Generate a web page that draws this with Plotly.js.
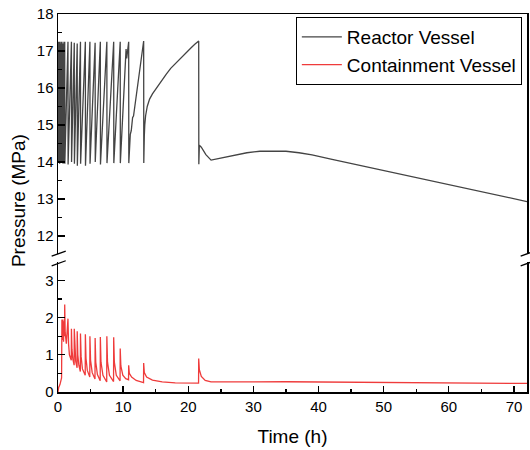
<!DOCTYPE html>
<html>
<head>
<meta charset="utf-8">
<script src="https://cdn.plot.ly/plotly-3.0.1.min.js"></script>
<style>html,body{margin:0;padding:0;background:#fff;}#chart{width:530px;height:450px;}</style>
</head>
<body>
<div id="chart"></div>
<script>
var seriesNames = ["Reactor Vessel", "Containment Vessel"];

var reactorTime = [0, 0.03, 0.06, 0.12, 0.15, 0.22, 0.25, 0.33, 0.36, 0.45,
  0.48, 0.57, 0.6, 0.63, 0.75, 0.78, 0.92, 0.95, 1.03, 1.05,
  1.53, 1.55, 2.06, 2.08, 2.5, 2.52, 2.95, 2.97, 3.45, 3.47,
  4.2, 4.22, 4.9, 4.92, 5.7, 5.72, 6.5, 6.52, 7.5, 7.52,
  8.55, 8.57, 9.55, 9.57, 10.45, 10.55, 10.85, 10.87, 11.1, 11.25,
  11.45, 11.6, 13.15, 13.17, 13.25, 13.32, 13.45, 13.7, 14.06, 14.5,
  15.1, 15.8, 16.6, 17.3, 18.16, 19.0, 19.7, 20.4, 21.0, 21.6,
  21.62, 21.7, 22.0, 22.7, 23.5, 25.0, 27.0, 29.0, 31.0, 33.0,
  35.0, 37.0, 39.0, 41.9, 44.5, 47, 52.1, 57.3, 62.4, 67.5,
  72];
var reactorPressure = [15.0, 17.25, 14.0, 17.2, 14.0, 17.25, 13.95, 17.2, 14.0, 17.25,
  14.0, 16.6, 17.25, 14.0, 17.2, 13.95, 17.25, 14.0, 17.25, 13.95,
  17.25, 13.93, 17.25, 14.0, 17.22, 13.95, 17.2, 13.9, 17.25, 13.95,
  17.25, 13.9, 17.25, 13.95, 17.22, 14.0, 17.25, 13.93, 17.25, 13.97,
  17.25, 13.97, 17.25, 13.97, 17.05, 16.8, 17.25, 13.97, 14.75, 14.85,
  15.2, 15.25, 17.27, 13.97, 14.7, 15.0, 15.25, 15.5, 15.7, 15.84,
  16.0, 16.18, 16.37, 16.53, 16.69, 16.84, 16.96, 17.08, 17.18, 17.27,
  13.94, 14.45, 14.4, 14.2, 14.05, 14.11, 14.19, 14.25, 14.29, 14.3,
  14.29, 14.25, 14.19, 14.08, 13.98, 13.88, 13.69, 13.49, 13.3, 13.11,
  12.93];

var containmentTime = [0, 0.1, 0.3, 0.55, 0.6, 0.68, 0.75, 0.85, 0.92, 1.0,
  1.03, 1.1, 1.28, 1.53, 1.62, 1.75, 2.04, 2.06, 2.14, 2.28,
  2.48, 2.5, 2.58, 2.72, 2.93, 2.95, 3.04, 3.2, 3.43, 3.45,
  3.55, 3.75, 4.18, 4.2, 4.3, 4.5, 4.88, 4.9, 5.0, 5.25,
  5.68, 5.7, 5.8, 6.05, 6.48, 6.5, 6.6, 6.9, 7.48, 7.5,
  7.6, 7.9, 8.53, 8.55, 8.65, 8.95, 9.53, 9.55, 9.65, 9.95,
  10.4, 10.83, 10.85, 10.95, 11.3, 12.0, 13.13, 13.15, 13.25, 13.6,
  14.5, 16, 18, 21.58, 21.6, 21.7, 22.0, 22.6, 23.5, 26,
  30, 35, 40, 50, 60, 72];
var containmentPressure = [0, 0.12, 0.2, 0.38, 1.95, 1.4, 1.95, 1.35, 1.9, 1.5,
  2.35, 1.6, 1.3, 1.97, 1.3, 1.0, 0.85, 1.70, 1.15, 0.88,
  0.72, 1.70, 1.1, 0.82, 0.65, 1.63, 1.0, 0.72, 0.55, 1.57,
  0.95, 0.62, 0.45, 1.55, 0.9, 0.58, 0.4, 1.5, 0.85, 0.52,
  0.35, 1.45, 0.8, 0.47, 0.3, 1.48, 0.8, 0.45, 0.27, 1.5,
  0.8, 0.45, 0.28, 1.47, 0.8, 0.45, 0.3, 1.17, 0.7, 0.45,
  0.36, 0.33, 0.72, 0.5, 0.4, 0.31, 0.25, 0.78, 0.52, 0.4,
  0.32, 0.27, 0.245, 0.24, 0.9, 0.6, 0.42, 0.31, 0.27, 0.265,
  0.27, 0.275, 0.27, 0.26, 0.245, 0.23];

var xTitle = "Time (h)";
var yTitle = "Pressure (MPa)";

var FONT = 'Arial, "Liberation Sans", sans-serif';

var traces = [
  {x: reactorTime, y: reactorPressure, name: seriesNames[0], type: 'scatter', mode: 'lines',
   xaxis: 'x2', yaxis: 'y2', line: {color: '#444444', width: 1.3}},
  {x: containmentTime, y: containmentPressure, name: seriesNames[1], type: 'scatter', mode: 'lines',
   xaxis: 'x', yaxis: 'y', line: {color: '#ef3b3b', width: 1.3}}
];

var lowTop = 0.3447, upBot = 0.3638;
var axBase = {showgrid: false, zeroline: false, showline: true, linecolor: '#000', linewidth: 1.5,
  ticks: 'inside', ticklen: 6.5, tickwidth: 1.3, tickcolor: '#000',
  tickfont: {family: FONT, size: 15, color: '#000'}};

function slash(x, y0) {
  return {type: 'line', xref: 'paper', yref: 'paper', x0: x - 0.0135, x1: x + 0.0165,
    y0: y0, y1: y0 + 0.0135, line: {color: '#000', width: 1.3}};
}

var layout = {
  width: 530, height: 450,
  margin: {l: 58, r: 3, t: 14, b: 58},
  paper_bgcolor: '#fff', plot_bgcolor: '#fff',
  font: {family: FONT, color: '#000'},
  showlegend: true,
  legend: {x: 0.989, y: 0.992, xanchor: 'right', yanchor: 'top', bgcolor: '#fff',
    bordercolor: '#000', borderwidth: 1, font: {family: FONT, size: 19, color: '#000'},
    tracegroupgap: 0, itemwidth: 40},
  xaxis: Object.assign({}, axBase, {range: [0, 72], domain: [0, 1], anchor: 'y', dtick: 10,
    minor: {ticks: 'inside', ticklen: 3.5, dtick: 5, tickwidth: 1.3, tickcolor: '#000'},
    title: {text: xTitle, font: {family: FONT, size: 19, color: '#000'}, standoff: 16}}),
  xaxis2: {matches: 'x', anchor: 'y2', side: 'top', showline: true, linecolor: '#000', linewidth: 1.5,
    ticks: '', showticklabels: false, showgrid: false, zeroline: false, range: [0, 72]},
  yaxis: Object.assign({}, axBase, {range: [0, 3.5], domain: [0, lowTop], anchor: 'x', dtick: 1, mirror: true,
    minor: {ticks: 'inside', ticklen: 3.5, dtick: 0.5, tickwidth: 1.3, tickcolor: '#000'}}),
  yaxis2: Object.assign({}, axBase, {range: [11.5, 18], domain: [upBot, 1], anchor: 'x2', dtick: 1, mirror: true,
    minor: {ticks: 'inside', ticklen: 3.5, dtick: 0.5, tickwidth: 1.3, tickcolor: '#000'}}),
  annotations: [{text: yTitle, xref: 'paper', yref: 'paper', x: 0, xshift: -40, y: 0.505,
    xanchor: 'center', yanchor: 'middle', textangle: -90, showarrow: false,
    font: {family: FONT, size: 19, color: '#000'}}],
  shapes: [slash(0, upBot - 0.0045), slash(0, lowTop - 0.011), slash(1, upBot - 0.0045), slash(1, lowTop - 0.011)]
};

Plotly.newPlot('chart', traces, layout, {displayModeBar: false, staticPlot: true});
</script>
</body>
</html>
